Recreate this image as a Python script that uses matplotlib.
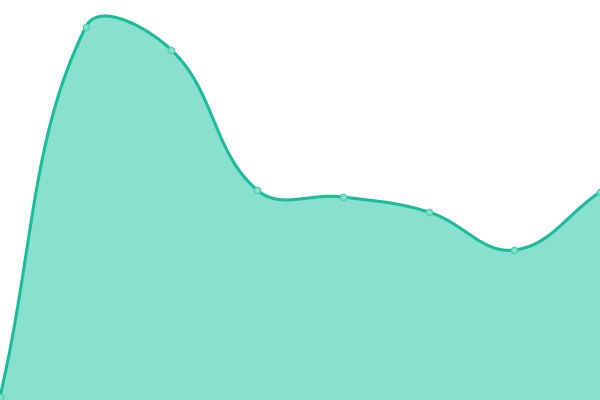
import numpy as np
import matplotlib
matplotlib.use("Agg")
import matplotlib.pyplot as plt

# 数据（y 轴 0~400）
labels = ["1", "2", "3", "4", "5", "6", "7", "8"]
values = [3, 373, 350, 210, 203, 188, 150, 208]

line_color = "#1abc9c"
fill_color = "#89e0cf"

fig = plt.figure(figsize=(6, 4), dpi=100)
ax = fig.add_axes([0, 0, 1, 1])
ax.set_xlim(0, len(values) - 1)
ax.set_ylim(0, 400)
ax.axis("off")

x = np.arange(len(values))
y = np.array(values, dtype=float)

# 在像素空间里做平滑曲线（tension 0.4 的贝塞尔样条）
pts = ax.transData.transform(np.column_stack([x, y]))
tension = 0.4
n = len(pts)
cp_prev = np.zeros_like(pts)
cp_next = np.zeros_like(pts)
for i in range(n):
    prev = pts[i - 1] if i > 0 else pts[i]
    nxt = pts[i + 1] if i < n - 1 else pts[i]
    d01 = np.hypot(*(pts[i] - prev))
    d12 = np.hypot(*(nxt - pts[i]))
    s = d01 + d12
    fa = tension * d01 / s if s else 0
    fb = tension * d12 / s if s else 0
    cp_prev[i] = pts[i] - fa * (nxt - prev)
    cp_next[i] = pts[i] + fb * (nxt - prev)

t = np.linspace(0, 1, 40)[:, None]
curve = [pts[0]]
for i in range(n - 1):
    p0, p1, p2, p3 = pts[i], cp_next[i], cp_prev[i + 1], pts[i + 1]
    seg = ((1 - t) ** 3) * p0 + 3 * ((1 - t) ** 2) * t * p1 + 3 * (1 - t) * t ** 2 * p2 + t ** 3 * p3
    curve.extend(seg[1:])
curve = ax.transData.inverted().transform(np.array(curve))

ax.fill_between(curve[:, 0], curve[:, 1], 0, color=fill_color, lw=0)
ax.plot(curve[:, 0], curve[:, 1], color=line_color, lw=2.2, solid_capstyle="round")
ax.plot(x, y, "o", ms=4.5, mfc=fill_color, mec="#4fcfb3", mew=1, clip_on=False)

plt.savefig("out.png", dpi=100)
